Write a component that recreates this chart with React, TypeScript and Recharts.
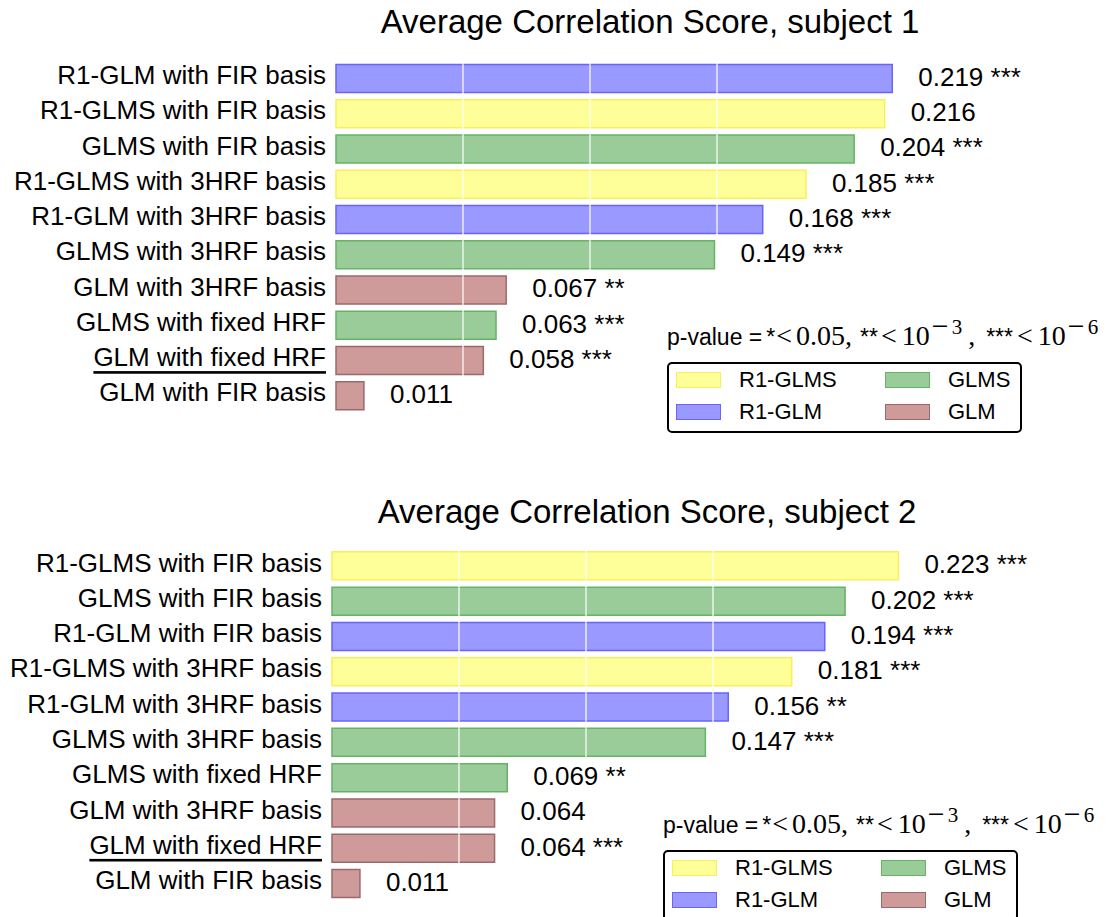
import React from "react";
import { Bar, BarChart, Cell, LabelList, Legend, ReferenceLine, XAxis, YAxis } from "recharts";

// subject 1, top to bottom
const categories1 = [
  "R1-GLM with FIR basis",
  "R1-GLMS with FIR basis",
  "GLMS with FIR basis",
  "R1-GLMS with 3HRF basis",
  "R1-GLM with 3HRF basis",
  "GLMS with 3HRF basis",
  "GLM with 3HRF basis",
  "GLMS with fixed HRF",
  "GLM with fixed HRF",
  "GLM with FIR basis",
];
const values1 = [0.219, 0.216, 0.204, 0.185, 0.168, 0.149, 0.067, 0.063, 0.058, 0.011];
const stars1 = ["***", "", "***", "***", "***", "***", "**", "***", "***", ""];
const models1 = ["R1-GLM", "R1-GLMS", "GLMS", "R1-GLMS", "R1-GLM", "GLMS", "GLM", "GLMS", "GLM", "GLM"];

// subject 2, top to bottom
const categories2 = [
  "R1-GLMS with FIR basis",
  "GLMS with FIR basis",
  "R1-GLM with FIR basis",
  "R1-GLMS with 3HRF basis",
  "R1-GLM with 3HRF basis",
  "GLMS with 3HRF basis",
  "GLMS with fixed HRF",
  "GLM with 3HRF basis",
  "GLM with fixed HRF",
  "GLM with FIR basis",
];
const values2 = [0.223, 0.202, 0.194, 0.181, 0.156, 0.147, 0.069, 0.064, 0.064, 0.011];
const stars2 = ["***", "***", "***", "***", "**", "***", "**", "", "***", ""];
const models2 = ["R1-GLMS", "GLMS", "R1-GLM", "R1-GLMS", "R1-GLM", "GLMS", "GLMS", "GLM", "GLM", "GLM"];

const legendModels = ["R1-GLMS", "GLMS", "R1-GLM", "GLM"];
const gridTicks = [0.05, 0.1, 0.15];
const baseline = "GLM with fixed HRF";

const FILL: Record<string, string> = {
  "R1-GLMS": "#ffff99",
  "R1-GLM": "#9999ff",
  GLMS: "#99cc99",
  GLM: "#cf9a9a",
};
const EDGE: Record<string, string> = {
  "R1-GLMS": "#f7f05a",
  "R1-GLM": "#6666ff",
  GLMS: "#66b366",
  GLM: "#9a6a6a",
};

const SANS = "'Liberation Sans', Arial, Helvetica, sans-serif";
const SERIF = "'Liberation Serif', 'Times New Roman', serif";

function CategoryTick(props: any) {
  const { x, y, payload } = props;
  const under = payload.value === baseline;
  return (
    <text
      x={x}
      y={y - 3}
      textAnchor="end"
      dominantBaseline="central"
      fontSize={26}
      fontFamily={SANS}
      fill="#000"
      style={under ? { textDecoration: "underline", textDecorationThickness: "2px", textUnderlineOffset: "2px" } : undefined}
    >
      {payload.value}
    </text>
  );
}

function ValueLabel(props: any) {
  const vb = props.viewBox ?? props;
  const x = vb.x + vb.width + 26;
  const y = vb.y + vb.height / 2 - 1.5;
  return (
    <text x={x} y={y} dominantBaseline="central" fontSize={26} fontFamily={SANS} fill="#000">
      {props.value}
    </text>
  );
}

function Power({ exp }: { exp: string }) {
  return (
    <>
      <span style={{ fontFamily: SERIF, fontSize: 28, marginLeft: 5 }}>10</span>
      <span style={{ fontFamily: SERIF, fontSize: 30, marginLeft: 2, position: "relative", top: -9 }}>−</span>
      <span style={{ fontFamily: SERIF, fontSize: 21, marginLeft: 3, position: "relative", top: -11 }}>{exp}</span>
    </>
  );
}

function PValueText() {
  const serif: React.CSSProperties = { fontFamily: SERIF, fontSize: 28 };
  return (
    <>
      p-value =<span style={{ marginLeft: 4 }}>*</span>
      <span style={{ ...serif, marginLeft: 1 }}>&lt;</span>
      <span style={{ ...serif, marginLeft: 4 }}>0.05,</span>
      <span style={{ marginLeft: 8 }}>**</span>
      <span style={{ ...serif, marginLeft: 3 }}>&lt;</span>
      <Power exp="3" />
      <span style={{ ...serif, marginLeft: 6 }}>,</span>
      <span style={{ marginLeft: 11 }}>***</span>
      <span style={{ ...serif, marginLeft: 4 }}>&lt;</span>
      <Power exp="6" />
    </>
  );
}

function PLegend({ left, textTop, boxTop }: { left: number; textTop: number; boxTop: number }) {
  const item = (m: string, i: number) => {
    const col = i % 2;
    const row = Math.floor(i / 2);
    return (
      <div
        key={m}
        style={{
          position: "absolute",
          left: 7 + col * 209,
          top: 7 + row * 32,
          height: 17,
          display: "flex",
          alignItems: "center",
        }}
      >
        <div
          style={{
            width: 43,
            height: 14,
            background: FILL[m],
            border: `1.5px solid ${EDGE[m]}`,
          }}
        />
        <span style={{ marginLeft: 18, fontSize: 22, lineHeight: "17px", whiteSpace: "nowrap" }}>{m}</span>
      </div>
    );
  };
  return (
    <div style={{ position: "relative", fontFamily: SANS, color: "#000" }}>
      <div
        style={{
          position: "absolute",
          left,
          top: textTop,
          height: 30,
          fontSize: 23,
          lineHeight: "30px",
          whiteSpace: "nowrap",
        }}
      >
        <PValueText />
      </div>
      <div
        style={{
          position: "absolute",
          left,
          top: boxTop,
          width: 351,
          height: 67,
          border: "2px solid #000",
          borderRadius: 5,
          background: "#fff",
        }}
      >
        {legendModels.map(item)}
      </div>
    </div>
  );
}

function Panel(props: {
  title: string;
  categories: string[];
  values: number[];
  stars: string[];
  models: string[];
  top: number;
  height: number;
  axisWidth: number;
  margin: { top: number; right: number; bottom: number; left: number };
  titleTop: number;
  titleCenter: number;
  legend: { left: number; textTop: number; boxTop: number };
}) {
  const data = props.categories.map((name, i) => ({
    name,
    value: props.values[i],
    text: props.values[i].toFixed(3) + (props.stars[i] ? " " + props.stars[i] : ""),
    model: props.models[i],
  }));
  return (
    <div style={{ position: "absolute", left: 0, top: props.top, width: 1108, height: props.height }}>
      <div
        style={{
          position: "absolute",
          left: props.titleCenter - 400,
          width: 800,
          top: props.titleTop,
          textAlign: "center",
          fontFamily: SANS,
          fontSize: 33,
          lineHeight: "33px",
          color: "#000",
          zIndex: 2,
        }}
      >
        {props.title}
      </div>
      <BarChart width={1108} height={props.height} data={data} layout="vertical" margin={props.margin}>
        <XAxis type="number" domain={[0, 0.3]} hide />
        <YAxis
          type="category"
          dataKey="name"
          width={props.axisWidth}
          tick={<CategoryTick />}
          tickLine={false}
          axisLine={false}
          tickSize={0}
          tickMargin={10}
          interval={0}
        />
        <Bar dataKey="value" barSize={28} isAnimationActive={false}>
          {data.map((d) => (
            <Cell key={d.name} fill={FILL[d.model]} stroke={EDGE[d.model]} strokeWidth={1.5} />
          ))}
          <LabelList dataKey="text" content={<ValueLabel />} />
        </Bar>
        {gridTicks.map((t) => (
          <ReferenceLine key={t} x={t} stroke="#ffffff" strokeWidth={1.2} zIndex={700} />
        ))}
        <Legend
          layout="vertical"
          align="center"
          verticalAlign="middle"
          wrapperStyle={{ left: 0, top: 0, width: 1108, height: 0 }}
          content={() => <PLegend {...props.legend} />}
        />
      </BarChart>
    </div>
  );
}

export default function App() {
  return (
    <div
      style={{
        position: "absolute",
        left: 0,
        top: 0,
        width: 1108,
        height: 917,
        overflow: "hidden",
        background: "#fff",
      }}
    >
      <Panel
        title="Average Correlation Score, subject 1"
        categories={categories1}
        values={values1}
        stars={stars1}
        models={models1}
        top={0}
        height={440}
        axisWidth={336}
        margin={{ top: 60.4, right: 10, bottom: 27, left: 0 }}
        titleTop={5}
        titleCenter={650}
        legend={{ left: 667, textTop: 320, boxTop: 362 }}
      />
      <Panel
        title="Average Correlation Score, subject 2"
        categories={categories2}
        values={values2}
        stars={stars2}
        models={models2}
        top={480}
        height={437}
        axisWidth={332}
        margin={{ top: 67.85, right: 14, bottom: 16.15, left: 0 }}
        titleTop={15}
        titleCenter={647}
        legend={{ left: 663, textTop: 328, boxTop: 370 }}
      />
    </div>
  );
}
